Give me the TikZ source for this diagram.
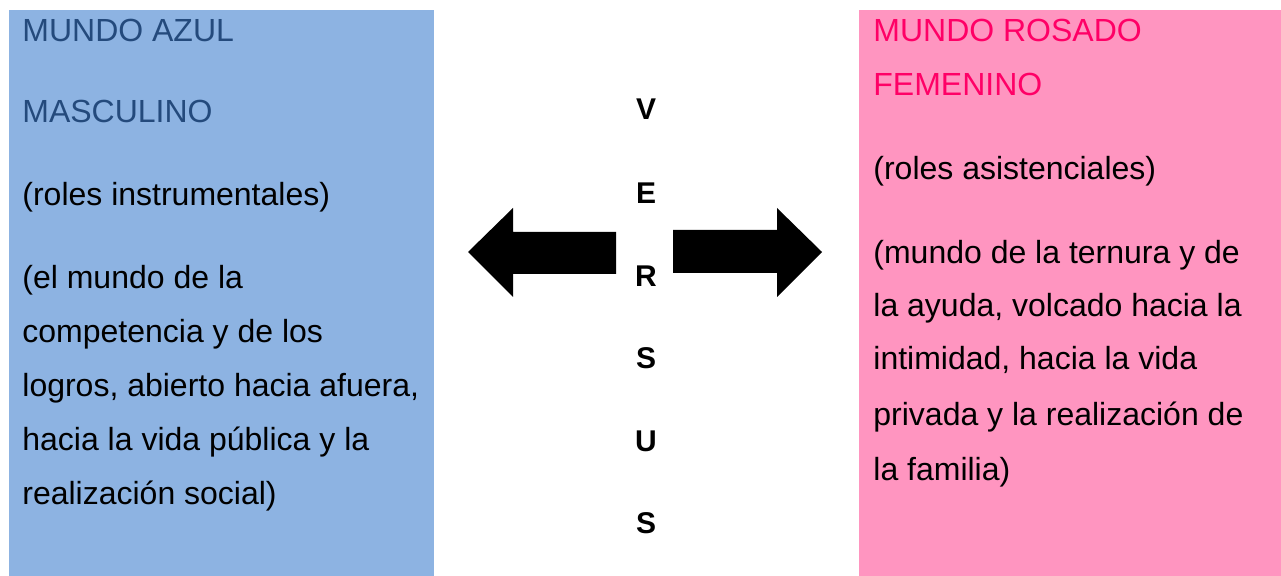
\documentclass[tikz,border=0pt]{standalone}
\usepackage{fontspec}
\setmainfont{Liberation Sans}
\definecolor{bluefill}{HTML}{8DB3E2}
\definecolor{bluetext}{HTML}{244A7C}
\definecolor{pinkfill}{HTML}{FF95C0}
\definecolor{pinktext}{HTML}{FF0066}
\begin{document}
\begin{tikzpicture}[x=0.5pt,y=-0.5pt,
  txt/.style={anchor=base west,inner sep=0pt,font=\fontsize{16}{19}\selectfont},
  vs/.style={anchor=center,inner sep=0pt,font=\fontsize{15}{18}\selectfont\bfseries},
  bigarrow/.style={fill=black,draw=none}]
\useasboundingbox (0,0) rectangle (1281,576);
\fill[white] (0,0) rectangle (1281,576);
% boxes
\fill[bluefill] (9,10) rectangle (434,576);
\fill[pinkfill] (859,10) rectangle (1281,576);
% arrows
\fill[bigarrow] (468,252) -- (513,208) -- (513,232) -- (616,232) -- (616,274) -- (513,274) -- (513,297) -- cycle;
\fill[bigarrow] (822,252) -- (777,208) -- (777,230) -- (673,230) -- (673,273) -- (777,273) -- (777,297) -- cycle;
% left text
\node[txt,text=bluetext] (l1) at (22,42) {MUNDO AZUL};
\node[txt,text=bluetext] (l2) at (22,123) {MASCULINO};
\node[txt] (l3) at (22,206) {(roles instrumentales)};
\node[txt] (l4) at (22,289) {(el mundo de la};
\node[txt] (l5) at (22,343) {competencia y de los};
\node[txt] (l6) at (22,397) {logros, abierto hacia afuera,};
\node[txt] (l7) at (22,451) {hacia la vida pública y la};
\node[txt] (l8) at (22,505) {realización social)};
% right text
\node[txt,text=pinktext] (r1) at (873,42) {MUNDO ROSADO};
\node[txt,text=pinktext] (r2) at (873,96) {FEMENINO};
\node[txt] (r3) at (873,180) {(roles asistenciales)};
\node[txt] (r4) at (873,264) {(mundo de la ternura y de};
\node[txt] (r5) at (873,317) {la ayuda, volcado hacia la};
\node[txt] (r6) at (873,370) {intimidad, hacia la vida};
\node[txt] (r7) at (873,426) {privada y la realización de};
\node[txt] (r8) at (873,481) {la familia)};
% versus
\node[vs] (v1) at (646,109) {V};
\node[vs] (v2) at (646,193) {E};
\node[vs] (v3) at (646,276) {R};
\node[vs] (v4) at (646,358) {S};
\node[vs] (v5) at (646,441) {U};
\node[vs] (v6) at (646,523) {S};
\end{tikzpicture}
\end{document}
